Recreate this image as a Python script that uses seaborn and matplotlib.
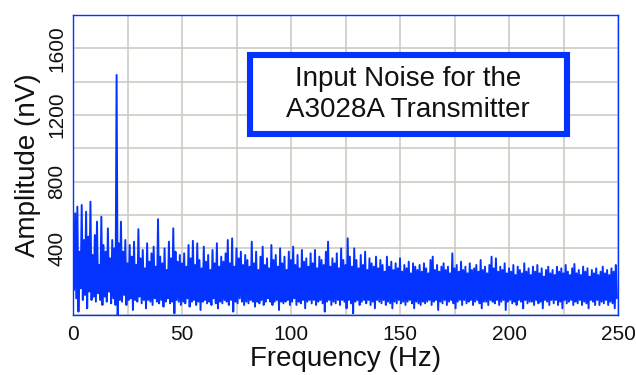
import matplotlib
matplotlib.use('Agg')
import matplotlib.pyplot as plt
import numpy as np
import pandas as pd
import seaborn as sns
from matplotlib.patches import Rectangle
from matplotlib.ticker import MultipleLocator, FuncFormatter

sns.set_theme(style='white')
plt.rcParams['font.family'] = ['Liberation Sans', 'DejaVu Sans']

# spectrum: one peak and one trough per 1 Hz bin
peaks = [
    540, 610, 650, 380, 660, 450, 620, 470, 680, 360,
    480, 560, 300, 590, 420, 380, 520, 340, 450, 400,
    1440, 430, 560, 380, 450, 310, 420, 350, 440, 300,
    515, 340, 390, 280, 430, 320, 370, 410, 290, 575,
    350, 310, 400, 270, 440, 340, 520, 380, 320, 360,
    310, 370, 290, 420, 340, 445, 300, 430, 330, 280,
    410, 320, 360, 270, 390, 310, 430, 290, 350, 320,
    370, 450, 310, 460, 290, 400, 340, 380, 300, 360,
    330, 290, 440, 310, 380, 270, 350, 410, 300, 340,
    280, 420, 330, 360, 290, 400, 310, 350, 270, 380,
    330, 410, 300, 360, 280, 390, 320, 340, 290, 370,
    310, 390, 280, 350, 330, 300, 380, 440, 290, 340,
    310, 370, 280, 400, 330, 300, 460, 350, 290, 400,
    330, 280, 360, 300, 380, 270, 340, 310, 290, 350,
    280, 330, 300, 260, 350, 290, 320, 270, 310, 280,
    340, 260, 300, 280, 320, 250, 310, 290, 270, 300,
    260, 310, 280, 250, 330, 350, 270, 300, 260, 290,
    310, 270, 290, 250, 370, 280, 300, 260, 320, 270,
    290, 250, 310, 270, 280, 300, 260, 330, 270, 290,
    250, 300, 350, 280, 340, 260, 290, 270, 310, 250,
    280, 260, 300, 240, 290, 270, 250, 310, 260, 280,
    240, 290, 260, 300, 250, 280, 230, 270, 290, 250,
    270, 240, 290, 260, 280, 250, 300, 260, 240, 280,
    306, 250, 270, 240, 290, 260, 280, 230, 270, 250,
    280, 240, 260, 290, 250, 270, 240, 280, 260, 300,
]
troughs = [
    150, 100, 20, 160, 90, 120, 40, 140, 90, 110,
    80, 130, 90, 60, 110, 80, 140, 70, 100, 60,
    0, 90, 80, 120, 60, 90, 100, 30, 90, 80,
    110, 70, 90, 40, 90, 80, 60, 100, 80, 70,
    90, 50, 80, 100, 70, 80, 10, 90, 80, 60,
    80, 70, 100, 50, 80, 90, 60, 80, 30, 80,
    90, 70, 80, 60, 100, 70, 40, 80, 70, 90,
    80, 60, 90, 20, 80, 70, 100, 80, 60, 80,
    70, 90, 80, 50, 80, 70, 90, 60, 80, 100,
    80, 60, 80, 90, 30, 80, 70, 80, 90, 60,
    80, 100, 60, 80, 70, 90, 40, 80, 90, 70,
    90, 60, 80, 90, 70, 20, 80, 90, 60, 80,
    70, 90, 60, 90, 80, 40, 90, 70, 10, 80,
    90, 60, 80, 90, 70, 90, 60, 80, 40, 90,
    80, 70, 90, 60, 80, 70, 40, 80, 70, 90,
    70, 80, 60, 80, 90, 70, 40, 80, 70, 60,
    80, 70, 80, 90, 60, 80, 90, 30, 80, 70,
    90, 60, 80, 90, 70, 40, 80, 90, 60, 90,
    70, 80, 90, 60, 80, 90, 70, 40, 80, 80,
    60, 90, 80, 70, 90, 60, 80, 90, 30, 80,
    90, 70, 80, 60, 90, 80, 40, 90, 70, 80,
    80, 60, 90, 70, 80, 40, 90, 80, 60, 90,
    70, 90, 60, 80, 40, 90, 70, 80, 90, 60,
    80, 70, 90, 60, 80, 70, 40, 90, 80, 60,
    90, 60, 80, 70, 90, 60, 80, 70, 40, 100,
]
bin_width = 0.5
title_lines = ['Input Noise for the', 'A3028A Transmitter']

BLUE = '#0433ff'
GRID = '#c9c9c0'


def main():
    amp = np.empty(len(peaks) * 2)
    amp[0::2] = peaks
    amp[1::2] = troughs
    df = pd.DataFrame({'freq': np.arange(len(amp)) * bin_width, 'amp': amp})

    fig = plt.figure(figsize=(6.36, 3.75), dpi=100)
    ax = fig.add_axes([73 / 636, 60 / 375, 545 / 636, 300 / 375])

    sns.lineplot(data=df, x='freq', y='amp', color=BLUE, linewidth=1.4,
                 estimator=None, sort=False, ax=ax, zorder=3)

    ax.set_xlim(0, 250)
    ax.set_ylim(0, 1800)
    ax.xaxis.set_major_locator(MultipleLocator(50))
    ax.xaxis.set_minor_locator(MultipleLocator(25))
    ax.yaxis.set_major_locator(MultipleLocator(200))
    ax.yaxis.set_major_formatter(FuncFormatter(
        lambda v, p: f'{int(v)}' if v > 0 and int(v) % 400 == 0 else ''))
    ax.grid(which='both', color=GRID, linewidth=1.1, zorder=0)
    ax.set_axisbelow(True)
    ax.tick_params(axis='both', which='both', length=0, labelsize=15,
                   colors='#111111')
    ax.tick_params(axis='x', pad=7)
    ax.tick_params(axis='y', pad=5)
    for lab in ax.get_yticklabels():
        lab.set_rotation(90)
        lab.set_va('center')
    for s in ax.spines.values():
        s.set_color(BLUE)
        s.set_linewidth(1.0)
        s.set_zorder(5)

    ax.set_xlabel('Frequency (Hz)', fontsize=20, color='#111111', labelpad=2)
    ax.set_ylabel('Amplitude (nV)', fontsize=20, color='#111111', labelpad=4)

    box = Rectangle((0.325, 0.603), 0.581, 0.263, transform=ax.transAxes,
                    facecolor='white', edgecolor=BLUE, linewidth=4.4,
                    zorder=6)
    ax.add_patch(box)
    ax.text(0.615, 0.735, '\n'.join(title_lines), transform=ax.transAxes,
            ha='center', va='center', fontsize=20, linespacing=1.25,
            color='#111111', zorder=7)

    fig.savefig('out.png', dpi=100)


if __name__ == '__main__':
    main()
